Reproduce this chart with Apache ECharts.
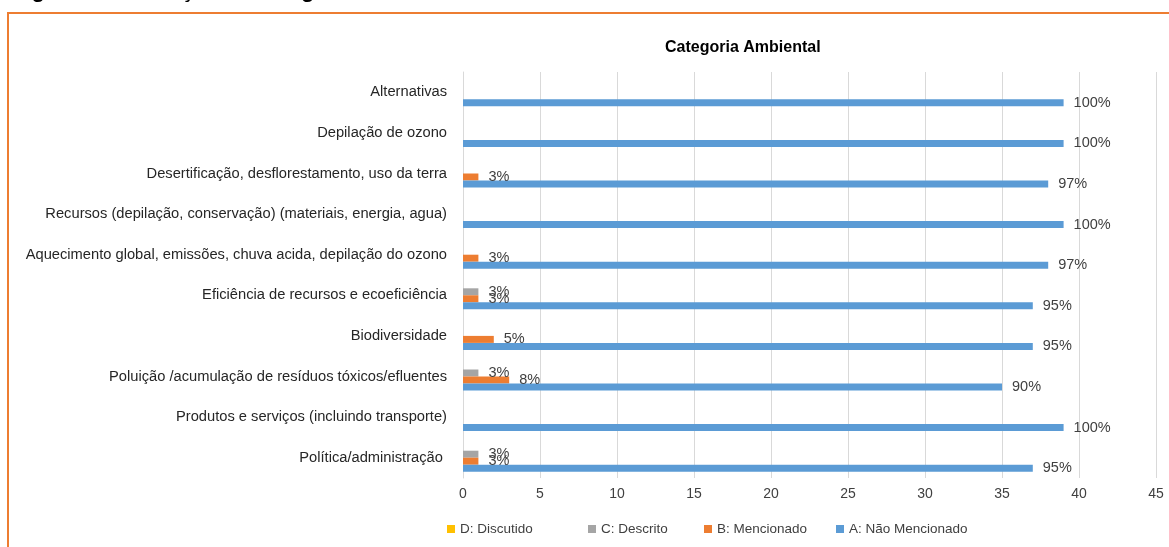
<!DOCTYPE html>
<html><head><meta charset="utf-8">
<script src="https://cdn.jsdelivr.net/npm/echarts@6/dist/echarts.min.js"></script>
<style>html,body{margin:0;padding:0;background:#fff}#c{width:1169px;height:547px}</style>
</head><body><div id="c"></div>
<script>
const categories = [
  'Política/administração ',
  'Produtos e serviços (incluindo transporte)',
  'Poluição /acumulação de resíduos tóxicos/efluentes',
  'Biodiversidade',
  'Eficiência de recursos e ecoeficiência',
  'Aquecimento global, emissões, chuva acida, depilação do ozono',
  'Recursos (depilação, conservação) (materiais, energia, agua)',
  'Desertificação, desflorestamento, uso da terra',
  'Depilação de ozono',
  'Alternativas'
];
const seriesNames = ['D: Discutido', 'C: Descrito', 'B: Mencionado', 'A: Não Mencionado'];
const valuesD = [0, 0, 0, 0, 0, 0, 0, 0, 0, 0];
const valuesC = [1, 0, 1, 0, 1, 0, 0, 0, 0, 0];
const valuesB = [1, 0, 3, 2, 1, 1, 0, 1, 0, 0];
const valuesA = [37, 39, 35, 37, 37, 38, 39, 38, 39, 39];
const labelsD = ['', '', '', '', '', '', '', '', '', ''];
const labelsC = ['3%', '', '3%', '', '3%', '', '', '', '', ''];
const labelsB = ['3%', '', '8%', '5%', '3%', '3%', '', '3%', '', ''];
const labelsA = ['95%', '100%', '90%', '95%', '95%', '97%', '100%', '97%', '100%', '100%'];
const xTicks = [0, 5, 10, 15, 20, 25, 30, 35, 40, 45];
const chartTitle = 'Categoria Ambiental';
const figureCaption = 'Figura 5 - Avaliação na categoria Ambiental';

const colors = ['#FFC000', '#A5A5A5', '#ED7D31', '#5B9BD5'];
const FONT = 'Liberation Sans';
const legendLefts = [442, 583, 699, 831];
const allValues = [valuesD, valuesC, valuesB, valuesA];
const allLabels = [labelsD, labelsC, labelsB, labelsA];

const chart = echarts.init(document.getElementById('c'), null, {renderer: 'canvas'});
chart.setOption({
  animation: false,
  color: colors,
  textStyle: {fontFamily: FONT},
  title: {
    text: chartTitle, left: 660, top: 35,
    textStyle: {fontFamily: FONT, fontSize: 16, fontWeight: 'bold', color: '#000'}
  },
  graphic: [
    {type: 'rect', shape: {x: 8, y: 13, width: 1300, height: 700},
     style: {fill: 'none', stroke: '#ED7D31', lineWidth: 2}, silent: true},
    {type: 'text', x: 12, y: 2,
     style: {text: figureCaption, fontFamily: FONT, fontSize: 22, fontWeight: 'bold',
             fill: '#000', verticalAlign: 'bottom', align: 'left'}}
  ],
  legend: seriesNames.map((n, i) => ({
    data: [n], bottom: 6, left: legendLefts[i], itemWidth: 8, itemHeight: 8,
    icon: 'rect', itemGap: 5,
    textStyle: {fontFamily: FONT, fontSize: 13.5, color: '#404040'}
  })),
  grid: {left: 463, right: 13, top: 72, bottom: 69, containLabel: false},
  xAxis: {
    type: 'value', min: xTicks[0], max: xTicks[xTicks.length - 1], interval: 5,
    axisLine: {show: false}, axisTick: {show: false},
    splitLine: {lineStyle: {color: '#D9D9D9'}},
    axisLabel: {fontFamily: FONT, fontSize: 14, color: '#404040', margin: 9}
  },
  yAxis: {
    type: 'category', data: categories,
    axisLine: {lineStyle: {color: '#D9D9D9'}}, axisTick: {show: false},
    axisLabel: {fontFamily: FONT, fontSize: 14.7, color: '#262626', margin: 16}
  },
  series: seriesNames.map((name, i) => ({
    name: name, type: 'bar', barWidth: 7, barGap: '0%',
    data: allValues[i],
    label: {
      show: true, position: 'right', distance: 10,
      fontFamily: FONT, fontSize: 14.5, color: '#404040',
      formatter: p => allLabels[i][p.dataIndex]
    }
  }))
});
</script></body></html>
